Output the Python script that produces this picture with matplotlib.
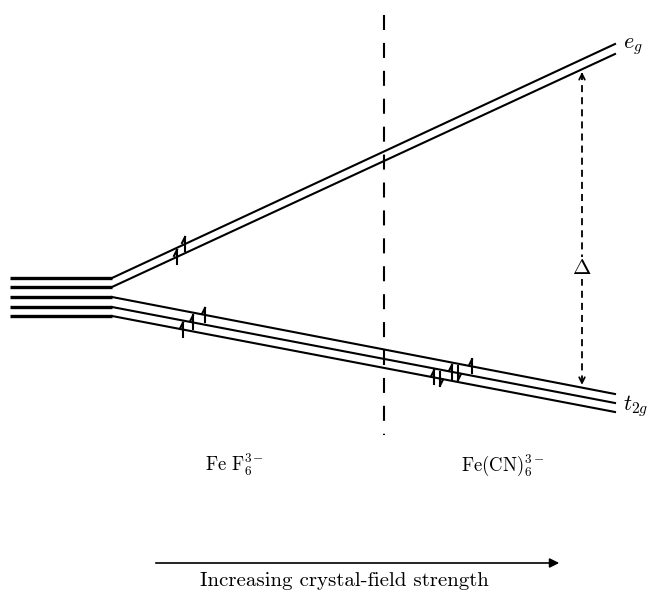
import numpy as np
import matplotlib.pyplot as plt

plt.rcParams['mathtext.fontset'] = 'cm'

# уровни (пиксельные координаты картинки, y вниз)
x_start = 10
x_split = 112
x_end = 615
eg_left = [278, 287]
eg_right = [44, 54]
t2g_left = [297, 307, 316]
t2g_right = [394, 403, 412]

# электроны: (уровень, индекс линии, x, направление)
fef6_electrons = [("eg", 0, 185, 1), ("eg", 1, 177, 1),
                  ("t2g", 0, 205, 1), ("t2g", 1, 193, 1), ("t2g", 2, 183, 1)]
fecn6_electrons = [("t2g", 0, 472, 1),
                   ("t2g", 1, 452, 1), ("t2g", 1, 458, -1),
                   ("t2g", 2, 434, 1), ("t2g", 2, 440, -1)]

divider_x = 384
delta_x = 582
complex_labels = [r"$\mathrm{Fe\ F_6^{3-}}$", r"$\mathrm{Fe(CN)_6^{3-}}$"]
complex_x = [235, 503]
axis_label = "Increasing crystal-field strength"


def level_y(kind, i, x):
    left = eg_left if kind == "eg" else t2g_left
    right = eg_right if kind == "eg" else t2g_right
    return np.interp(x, [x_split, x_end], [left[i], right[i]])


fig = plt.figure(figsize=(6.48, 5.90), dpi=100)
ax = fig.add_axes([0, 0, 1, 1])
ax.set_xlim(0, 648)
ax.set_ylim(590, 0)
ax.axis('off')

# вырожденные уровни слева
for y in eg_left + t2g_left:
    ax.plot([x_start, x_split], [y, y], color='black', lw=2.4, solid_capstyle='butt')

# расщеплённые уровни
for l, r in zip(eg_left + t2g_left, eg_right + t2g_right):
    ax.plot([x_split, x_end], [l, r], color='black', lw=1.5)

# электроны
for kind, i, x, d in fef6_electrons + fecn6_electrons:
    y = level_y(kind, i, x)
    h = 7
    ax.plot([x, x], [y - h, y + h], color='black', lw=1.5)
    if d > 0:
        ax.plot([x, x - 3], [y - h, y - h + 6], color='black', lw=1.5)
    else:
        ax.plot([x, x + 3], [y + h, y + h - 6], color='black', lw=1.5)

# вертикальная пунктирная линия
ax.plot([divider_x, divider_x], [15, 435], color='black', lw=1.5, ls=(0, (7.2, 6.2)))

# Δ
y_top = level_y("eg", 1, delta_x)
y_bot = level_y("t2g", 0, delta_x)
ax.plot([delta_x, delta_x], [y_top + 4, y_bot - 4], color='black', lw=1.3, ls=(0, (3.9, 2.8)))
ax.annotate('', xy=(delta_x, y_top), xytext=(delta_x, y_top + 10),
            arrowprops=dict(arrowstyle='->', lw=1.3, color='black'))
ax.annotate('', xy=(delta_x, y_bot), xytext=(delta_x, y_bot - 10),
            arrowprops=dict(arrowstyle='->', lw=1.3, color='black'))
ax.text(delta_x, 268, r"$\Delta$", fontsize=16, ha='center', va='center',
        bbox=dict(facecolor='white', edgecolor='none', pad=1))

# подписи уровней
ax.text(x_end + 8, eg_right[0] + 3, r"$e_g$", fontsize=16, ha='left', va='center')
ax.text(x_end + 8, t2g_right[1] + 3, r"$t_{2g}$", fontsize=16, ha='left', va='center')

# подписи комплексов
for lab, x in zip(complex_labels, complex_x):
    ax.text(x, 465, lab, fontsize=13.5, ha='center', va='center')

# стрелка внизу
ax.annotate('', xy=(562, 563), xytext=(153, 563),
            arrowprops=dict(arrowstyle='-|>', lw=1.2, color='black', mutation_scale=14))
ax.text(344, 581, axis_label, fontsize=15, family='cmr10', ha='center', va='center')

fig.savefig('out.png', dpi=100)
